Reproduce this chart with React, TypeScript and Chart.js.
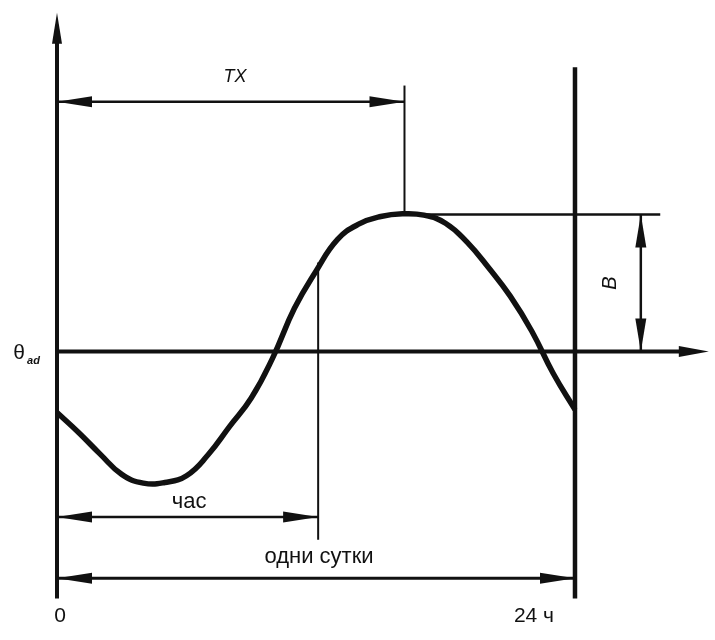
import React, { useEffect, useRef } from "react";
import { Chart, registerables } from "chart.js";

Chart.register(...registerables);

// ---- data (hours of the day, temperature deviation from θad) ----
const hours = [0, 1, 2, 3, 4, 5, 6, 7, 8, 9, 10, 11, 12, 13, 14, 15, 16, 17, 18, 19, 20, 21, 22, 23, 24];
const temps = [-4.52, -6.0, -7.6, -9.1, -9.75, -9.7, -9.2, -7.65, -5.55, -3.45, -0.45, 3.2, 5.95, 8.3, 9.45, 10.0, 10.2, 10.1, 9.5, 8.1, 6.2, 4.1, 1.5, -1.65, -4.3];

// ---- annotation values (data units) ----
const DAY_END = 24;          // "24 ч"
const TX_HOUR = 16.1;        // time of maximum
const HOUR_MARK = 12.1;      // "час" dimension end
const HOUR_MARK_TOP = 6.6;   // where the "час" mark meets the curve
const B_VALUE = 10.15;       // amplitude B
const AXIS_TOP = 25.1;
const AXIS_BOTTOM = -18.3;
const AXIS_RIGHT = 30.2;
const DAY_LINE_TOP = 21.05;
const TX_LINE_Y = 18.5;
const TX_MARK_TOP = 19.7;
const PEAK_LINE_END = 27.95;
const B_LINE_X = 27.05;
const HOUR_DIM_Y = -12.25;
const HOUR_MARK_BOTTOM = -13.95;
const DAY_DIM_Y = -16.8;

// ---- labels ----
const labelTX = "TX";
const labelB = "B";
const labelTheta = "θ";
const labelThetaSub = "ad";
const labelHour = "час";
const labelDay = "одни сутки";
const tickStart = "0";
const tickEnd = "24 ч";

const INK = "#111111";

function arrow(ctx: CanvasRenderingContext2D, tx: number, ty: number, dx: number, dy: number, len: number, hw: number) {
  const bx = tx - dx * len;
  const by = ty - dy * len;
  const px = -dy, py = dx;
  ctx.beginPath();
  ctx.moveTo(tx, ty);
  ctx.lineTo(bx + px * hw, by + py * hw);
  ctx.lineTo(bx - px * hw, by - py * hw);
  ctx.closePath();
  ctx.fill();
}

const diagramPlugin = {
  id: "diagram",
  beforeDatasetsDraw(chart: any) {
    const { ctx, scales } = chart;
    const X = (v: number) => scales.x.getPixelForValue(v);
    const Y = (v: number) => scales.y.getPixelForValue(v);
    ctx.save();
    ctx.strokeStyle = INK;
    ctx.fillStyle = INK;
    ctx.lineCap = "butt";
    const line = (x1: number, y1: number, x2: number, y2: number, w: number) => {
      ctx.lineWidth = w;
      ctx.beginPath();
      ctx.moveTo(X(x1), Y(y1));
      ctx.lineTo(X(x2), Y(y2));
      ctx.stroke();
    };
    // main axes
    line(0, AXIS_BOTTOM, 0, AXIS_TOP - 1.5, 4);
    arrow(ctx, X(0), Y(AXIS_TOP), 0, -1, 31, 5);
    line(0, 0, AXIS_RIGHT - 1, 0, 4);
    arrow(ctx, X(AXIS_RIGHT), Y(0), 1, 0, 30, 5.5);
    // 24 h line
    line(DAY_END, AXIS_BOTTOM, DAY_END, DAY_LINE_TOP, 4.5);
    // TX
    line(0, TX_LINE_Y, TX_HOUR, TX_LINE_Y, 2.5);
    arrow(ctx, X(0), Y(TX_LINE_Y), -1, 0, 35, 5.5);
    arrow(ctx, X(TX_HOUR), Y(TX_LINE_Y), 1, 0, 35, 5.5);
    line(TX_HOUR, TX_MARK_TOP, TX_HOUR, B_VALUE, 2);
    // peak line and B
    line(TX_HOUR, B_VALUE, PEAK_LINE_END, B_VALUE, 2.5);
    line(B_LINE_X, 0, B_LINE_X, B_VALUE, 2.5);
    arrow(ctx, X(B_LINE_X), Y(B_VALUE), 0, -1, 33, 5.5);
    arrow(ctx, X(B_LINE_X), Y(0), 0, 1, 33, 5.5);
    // hour dimension
    line(HOUR_MARK, HOUR_MARK_TOP, HOUR_MARK, HOUR_MARK_BOTTOM, 2);
    line(0, HOUR_DIM_Y, HOUR_MARK, HOUR_DIM_Y, 2.5);
    arrow(ctx, X(0), Y(HOUR_DIM_Y), -1, 0, 35, 5.5);
    arrow(ctx, X(HOUR_MARK), Y(HOUR_DIM_Y), 1, 0, 35, 5.5);
    // day dimension
    line(0, DAY_DIM_Y, DAY_END, DAY_DIM_Y, 3);
    arrow(ctx, X(0), Y(DAY_DIM_Y), -1, 0, 35, 5.5);
    arrow(ctx, X(DAY_END), Y(DAY_DIM_Y), 1, 0, 35, 5.5);
    ctx.restore();
  },
  afterDatasetsDraw(chart: any) {
    const { ctx, scales } = chart;
    const X = (v: number) => scales.x.getPixelForValue(v);
    const Y = (v: number) => scales.y.getPixelForValue(v);
    ctx.save();
    ctx.fillStyle = INK;
    ctx.textAlign = "center";
    ctx.textBaseline = "middle";
    const font = '"Liberation Sans", Arial, sans-serif';
    ctx.font = `italic 18px ${font}`;
    ctx.fillText(labelTX, X(8.25), Y(20.3));
    ctx.save();
    ctx.translate(X(25.62), Y(5.07));
    ctx.rotate(-Math.PI / 2);
    ctx.font = `italic 20px ${font}`;
    ctx.fillText(labelB, 0, 0);
    ctx.restore();
    ctx.font = `21px ${font}`;
    ctx.fillText(labelTheta, X(-1.76), Y(-0.15));
    ctx.font = `bold italic 11px ${font}`;
    ctx.fillText(labelThetaSub, X(-1.09), Y(-0.7));
    ctx.font = `22px ${font}`;
    ctx.fillText(labelHour, X(6.12), Y(-11.15));
    ctx.fillText(labelDay, X(12.14), Y(-15.22));
    ctx.font = `21px ${font}`;
    ctx.fillText(tickStart, X(0.14), Y(-19.6));
    ctx.fillText(tickEnd, X(22.1), Y(-19.6));
    ctx.restore();
  },
};

export default function App() {
  const ref = useRef<HTMLCanvasElement>(null);
  useEffect(() => {
    if (!ref.current) return;
    const chart = new Chart(ref.current, {
      type: "line",
      data: {
        datasets: [
          {
            data: hours.map((h, i) => ({ x: h, y: temps[i] })),
            borderColor: INK,
            borderWidth: 5.5,
            pointRadius: 0,
            tension: 0.45,
            fill: false,
            clip: false as any,
          },
        ],
      },
      options: {
        animation: false,
        responsive: false,
        layout: { padding: 0 },
        plugins: { legend: { display: false }, tooltip: { enabled: false } },
        scales: {
          x: { type: "linear", min: -57 / 21.583, max: (715 - 57) / 21.583, display: false },
          y: { type: "linear", min: -(640 - 351.5) / 13.5, max: 351.5 / 13.5, display: false },
        },
      },
      plugins: [diagramPlugin],
    });
    return () => chart.destroy();
  }, []);
  return (
    <div style={{ position: "absolute", left: 0, top: 0, width: 715, height: 640, background: "#fff" }}>
      <canvas ref={ref} width={715} height={640} />
    </div>
  );
}
